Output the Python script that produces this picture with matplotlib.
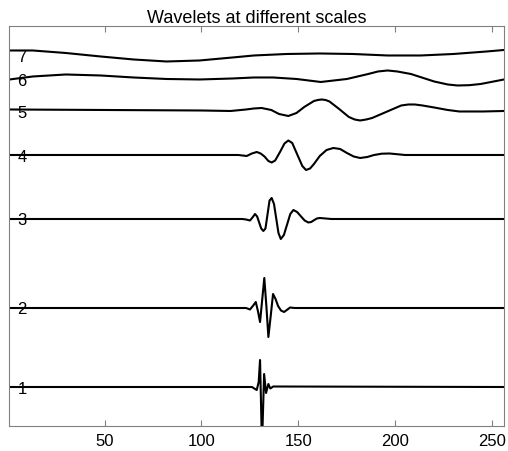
import matplotlib
matplotlib.use("Agg")
import matplotlib.pyplot as plt

# wavelet traces (x in samples, y in plot units 0..400)
scale1_x = [1, 126, 128.5, 129.5, 130.2, 131.2, 132.3, 133.3, 134.5, 135.5, 137, 256]
scale1_y = [39, 39, 36, 44, 66, -20, 52, 33, 42, 37.5, 39.5, 39]

scale2_x = [1, 123, 125, 126.5, 128, 129.1, 130.2, 131.3, 132.4, 133.5, 134.5, 135.7,
            136.9, 138.2, 139.5, 141, 142.6, 144, 145.7, 148, 256]
scale2_y = [118, 118, 116.5, 120, 124, 115, 104, 126, 148, 119, 89, 110,
            132, 127, 120, 115.5, 114, 116, 118.5, 118, 118]

scale3_x = [1, 121, 123, 125, 126.3, 127.6, 128.7, 129.75, 130.8, 131.9, 133, 134.05,
            135.1, 136.2, 137.4, 138.55, 139.7, 140.9, 142.5, 144.15, 145.8, 147.4,
            149.3, 151.25, 153.2, 155.1, 156.6, 158, 159.5, 161, 164, 167, 256]
scale3_y = [207, 207, 206.5, 205.5, 208.5, 212, 209.5, 203.5, 197.5, 195, 197.5, 211.5,
            225.5, 228, 222, 207.5, 193, 187, 191, 201.5, 212, 216,
            214, 209.75, 205.5, 203.5, 204, 205.75, 207.5, 208, 207.5, 207, 207]

scale4_x = [1, 119, 123.3, 126, 128.5, 130.5, 132.5, 134.5, 136.2, 138, 140.5, 142.8,
            144.8, 146.8, 149.5, 152, 153.9, 156, 158, 161, 164.5, 168, 171.5, 175,
            178.5, 181.8, 185.5, 189, 193, 197, 205, 256]
scale4_y = [271, 271, 270, 272.5, 274, 272.5, 269.5, 265, 263.5, 265.5, 274, 282.5,
            285.5, 283, 271, 260, 256, 257.5, 262, 270, 276, 278, 277, 273,
            269.5, 268, 269, 271, 272.3, 272.5, 271, 271]

scale5_x = [1, 50, 100, 115, 123, 127, 131, 136, 140, 144.8, 149, 153, 158, 160, 162,
            164, 166, 171, 176, 179, 181.8, 185, 188, 194, 200, 203, 206.7, 210, 214,
            220, 227, 233, 245, 256]
scale5_y = [316.5, 316, 315.5, 315, 316.5, 317.5, 318, 316, 312, 310, 313, 319, 325, 326,
            326.5, 326, 324.5, 317, 309, 306.5, 305.5, 306.5, 308, 313, 318, 320.5, 321.5,
            321.5, 320.5, 318.5, 316, 314.5, 314.5, 315]

scale6_x = [1, 13, 30, 48, 65, 82, 99, 116, 127, 137, 149, 161.5, 175, 186, 191, 196,
            201, 208, 220, 227, 232, 238, 244, 256]
scale6_y = [346.5, 349.5, 351.5, 350.5, 348.5, 347, 346.5, 347.5, 348.5, 348.5, 347, 344,
            347, 352, 354.5, 355.5, 354.5, 352, 344.5, 341.5, 340.5, 340.8, 342, 346.5]

scale7_x = [1, 13, 30, 48, 65, 82, 99, 116, 127, 144, 161, 178, 196, 213, 230, 247, 256]
scale7_y = [375.5, 375.5, 373, 369.5, 366.5, 364.5, 365.5, 368.5, 370.5, 372, 372.5, 372,
            370.5, 370.5, 372, 374.5, 376]

scale_labels = ["1", "2", "3", "4", "5", "6", "7"]
label_y = [38, 117, 206, 269, 313, 345.5, 369]

xticks = [50, 100, 150, 200, 250]

plt.rcParams["font.family"] = ["Liberation Sans", "DejaVu Sans"]

fig = plt.figure(figsize=(5.08, 4.52), dpi=100)
ax = fig.add_axes([0.0187, 0.0553, 0.9734, 0.885])

traces = [(scale1_x, scale1_y), (scale2_x, scale2_y), (scale3_x, scale3_y),
          (scale4_x, scale4_y), (scale5_x, scale5_y), (scale6_x, scale6_y),
          (scale7_x, scale7_y)]
for xs, ys in traces:
    ax.plot(xs, ys, color="black", lw=1.5, solid_joinstyle="round")

for lab, yy in zip(scale_labels, label_y):
    ax.text(5, yy, lab, fontsize=12, ha="left", va="center")

ax.set_xlim(1, 256)
ax.set_ylim(0, 400)
ax.set_xticks(xticks)
ax.set_yticks([])
ax.tick_params(axis="x", direction="in", length=4, top=True, labelsize=12,
               pad=5, color="#808080")
for sp in ax.spines.values():
    sp.set_color("#808080")
ax.set_title("Wavelets at different scales", fontsize=13, pad=3)

fig.savefig("out.png", dpi=100)
